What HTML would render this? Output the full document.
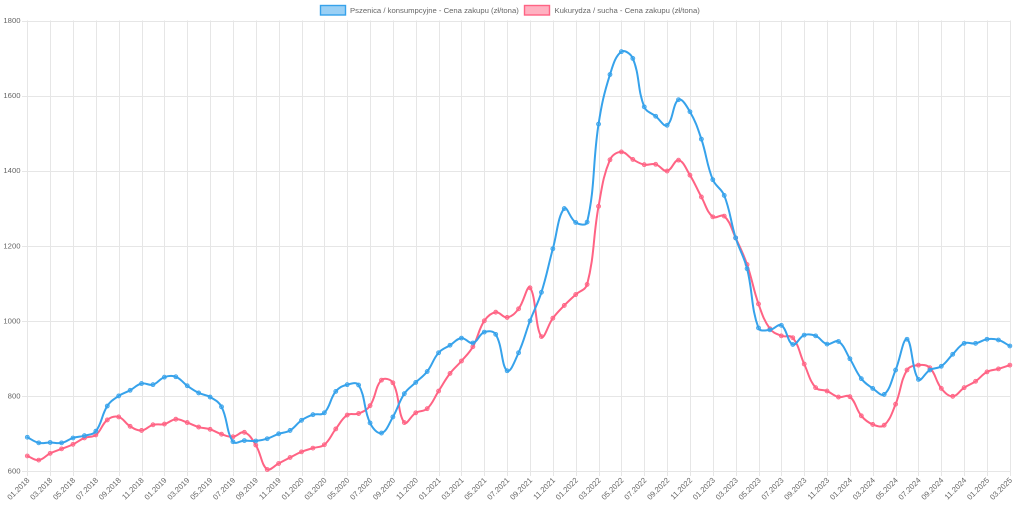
<!DOCTYPE html>
<html>
<head>
<meta charset="utf-8">
<style>
html,body{margin:0;padding:0;background:#fff;}
svg{display:block;}
text{font-family:"Liberation Sans",Arial,sans-serif;fill:#666;font-size:7.7px;}
.xl{text-anchor:end;dominant-baseline:central;}
.yl{text-anchor:end;dominant-baseline:central;}
</style>
</head>
<body>
<svg id="c" width="1024" height="508" viewBox="0 0 1024 508" xmlns="http://www.w3.org/2000/svg">
<g id="grid" stroke="#e6e6e6" stroke-width="1" shape-rendering="crispEdges"></g>
<g id="legend">
<rect x="320.5" y="5.5" width="25" height="9.5" fill="rgba(54,162,235,0.5)" stroke="rgb(54,162,235)" stroke-width="1.4"/>
<text x="350" y="10.5" dominant-baseline="central">Pszenica / konsumpcyjne - Cena zakupu (zł/tona)</text>
<rect x="524.5" y="5.5" width="25" height="9.5" fill="rgba(255,99,132,0.5)" stroke="rgb(255,99,132)" stroke-width="1.4"/>
<text x="554.5" y="10.5" dominant-baseline="central">Kukurydza / sucha - Cena zakupu (zł/tona)</text>
</g>
<g id="ylabels">
<text class="yl" x="20.5" y="20.5">1800</text>
<text class="yl" x="20.5" y="95.6">1600</text>
<text class="yl" x="20.5" y="170.7">1400</text>
<text class="yl" x="20.5" y="245.8">1200</text>
<text class="yl" x="20.5" y="320.8">1000</text>
<text class="yl" x="20.5" y="395.9">800</text>
<text class="yl" x="20.5" y="471">600</text>
</g>
<g id="xlabels">
<text class="xl" transform="translate(28.3,479) rotate(-45)">01.2018</text>
<text class="xl" transform="translate(51.15,479) rotate(-45)">03.2018</text>
<text class="xl" transform="translate(74,479) rotate(-45)">05.2018</text>
<text class="xl" transform="translate(96.85,479) rotate(-45)">07.2018</text>
<text class="xl" transform="translate(119.7,479) rotate(-45)">09.2018</text>
<text class="xl" transform="translate(142.55,479) rotate(-45)">11.2018</text>
<text class="xl" transform="translate(165.4,479) rotate(-45)">01.2019</text>
<text class="xl" transform="translate(188.25,479) rotate(-45)">03.2019</text>
<text class="xl" transform="translate(211.1,479) rotate(-45)">05.2019</text>
<text class="xl" transform="translate(233.95,479) rotate(-45)">07.2019</text>
<text class="xl" transform="translate(256.8,479) rotate(-45)">09.2019</text>
<text class="xl" transform="translate(279.65,479) rotate(-45)">11.2019</text>
<text class="xl" transform="translate(302.5,479) rotate(-45)">01.2020</text>
<text class="xl" transform="translate(325.35,479) rotate(-45)">03.2020</text>
<text class="xl" transform="translate(348.2,479) rotate(-45)">05.2020</text>
<text class="xl" transform="translate(371.05,479) rotate(-45)">07.2020</text>
<text class="xl" transform="translate(393.9,479) rotate(-45)">09.2020</text>
<text class="xl" transform="translate(416.75,479) rotate(-45)">11.2020</text>
<text class="xl" transform="translate(439.6,479) rotate(-45)">01.2021</text>
<text class="xl" transform="translate(462.45,479) rotate(-45)">03.2021</text>
<text class="xl" transform="translate(485.3,479) rotate(-45)">05.2021</text>
<text class="xl" transform="translate(508.15,479) rotate(-45)">07.2021</text>
<text class="xl" transform="translate(531,479) rotate(-45)">09.2021</text>
<text class="xl" transform="translate(553.85,479) rotate(-45)">11.2021</text>
<text class="xl" transform="translate(576.7,479) rotate(-45)">01.2022</text>
<text class="xl" transform="translate(599.55,479) rotate(-45)">03.2022</text>
<text class="xl" transform="translate(622.4,479) rotate(-45)">05.2022</text>
<text class="xl" transform="translate(645.25,479) rotate(-45)">07.2022</text>
<text class="xl" transform="translate(668.1,479) rotate(-45)">09.2022</text>
<text class="xl" transform="translate(690.95,479) rotate(-45)">11.2022</text>
<text class="xl" transform="translate(713.8,479) rotate(-45)">01.2023</text>
<text class="xl" transform="translate(736.65,479) rotate(-45)">03.2023</text>
<text class="xl" transform="translate(759.5,479) rotate(-45)">05.2023</text>
<text class="xl" transform="translate(782.35,479) rotate(-45)">07.2023</text>
<text class="xl" transform="translate(805.2,479) rotate(-45)">09.2023</text>
<text class="xl" transform="translate(828.05,479) rotate(-45)">11.2023</text>
<text class="xl" transform="translate(850.9,479) rotate(-45)">01.2024</text>
<text class="xl" transform="translate(873.75,479) rotate(-45)">03.2024</text>
<text class="xl" transform="translate(896.6,479) rotate(-45)">05.2024</text>
<text class="xl" transform="translate(919.45,479) rotate(-45)">07.2024</text>
<text class="xl" transform="translate(942.3,479) rotate(-45)">09.2024</text>
<text class="xl" transform="translate(965.15,479) rotate(-45)">11.2024</text>
<text class="xl" transform="translate(988,479) rotate(-45)">01.2025</text>
<text class="xl" transform="translate(1010.85,479) rotate(-45)">03.2025</text>
</g>
<g id="series"></g>
</svg>
<script>
(function(){
var NS="http://www.w3.org/2000/svg";
var X0=27.3, DX=11.425, YB=471, K=450.5/1200;
function X(i){return X0+i*DX;}
function Y(v){return YB-(v-600)*K;}
var grid=document.getElementById('grid');
function line(x1,y1,x2,y2){var l=document.createElementNS(NS,'line');l.setAttribute('x1',x1);l.setAttribute('y1',y1);l.setAttribute('x2',x2);l.setAttribute('y2',y2);grid.appendChild(l);}
for(var v=600;v<=1800;v+=200){var y=Math.round(Y(v))+0.5;line(22,y,1010,y);}
for(var i=0;i<=86;i+=2){var x=Math.round(X(i))+0.5;line(x,20.5,x,476);}
var blue=[690,675,676,675,688,694,706,773,800,815,833,830,850,851,827,808,797,771,678,681,680,686,699,708,735,750,755,812,830,829,728,701,744,806,836,865,915,935,954,941,970,964,867,915,1000,1076,1192,1299,1262,1263,1524,1656,1717,1699,1570,1545,1521,1589,1557,1484,1376,1334,1221,1139,981,976,988,937,962,960,938,945,899,846,820,804,869,951,844,869,879,911,940,940,951,949,933];
var pink=[640,629,647,659,671,688,696,736,744,719,708,723,725,738,729,717,711,698,691,703,669,604,620,636,651,661,670,712,749,753,774,842,835,729,755,766,813,860,893,931,1000,1023,1009,1032,1088,958,1007,1041,1070,1097,1305,1429,1450,1430,1416,1417,1399,1428,1388,1330,1277,1279,1221,1150,1045,979,960,955,885,822,813,797,798,747,724,722,778,869,882,875,820,799,822,839,864,872,882];
var T=0.4, TOP=20.5, BOT=471;
function cap(p){return [Math.max(27.3,Math.min(1010,p[0])),Math.max(TOP,Math.min(BOT,p[1]))];}
function draw(vals,col,fill){
 var pts=vals.map(function(v,i){return [X(i),Y(v)];});
 var cps=pts.map(function(p,i){
  var pr=pts[i-1]||p, nx=pts[i+1]||p;
  var d01=Math.hypot(p[0]-pr[0],p[1]-pr[1]), d12=Math.hypot(nx[0]-p[0],nx[1]-p[1]);
  var s01=d01/(d01+d12), s12=d12/(d01+d12);
  if(!isFinite(s01))s01=0; if(!isFinite(s12))s12=0;
  var fa=T*s01, fb=T*s12;
  return {a:cap([p[0]-fa*(nx[0]-pr[0]),p[1]-fa*(nx[1]-pr[1])]),b:cap([p[0]+fb*(nx[0]-pr[0]),p[1]+fb*(nx[1]-pr[1])])};
 });
 var d='M'+pts[0][0].toFixed(2)+','+pts[0][1].toFixed(2);
 for(var i=1;i<pts.length;i++){
  d+='C'+cps[i-1].b[0].toFixed(2)+','+cps[i-1].b[1].toFixed(2)+' '+cps[i].a[0].toFixed(2)+','+cps[i].a[1].toFixed(2)+' '+pts[i][0].toFixed(2)+','+pts[i][1].toFixed(2);
 }
 var g=document.getElementById('series');
 var path=document.createElementNS(NS,'path');
 path.setAttribute('d',d);path.setAttribute('fill','none');path.setAttribute('stroke',col);
 path.setAttribute('stroke-width','2');path.setAttribute('stroke-linejoin','round');path.setAttribute('stroke-linecap','round');
 g.appendChild(path);
 pts.forEach(function(p){
  var c=document.createElementNS(NS,'circle');
  c.setAttribute('cx',p[0]);c.setAttribute('cy',p[1]);c.setAttribute('r','2');
  c.setAttribute('fill',fill);c.setAttribute('stroke',col);c.setAttribute('stroke-width','0.8');
  g.appendChild(c);
 });
}
draw(pink,'rgb(255,99,132)','rgba(255,99,132,0.5)');
draw(blue,'rgb(54,162,235)','rgba(54,162,235,0.5)');
})();
</script>
</body>
</html>
